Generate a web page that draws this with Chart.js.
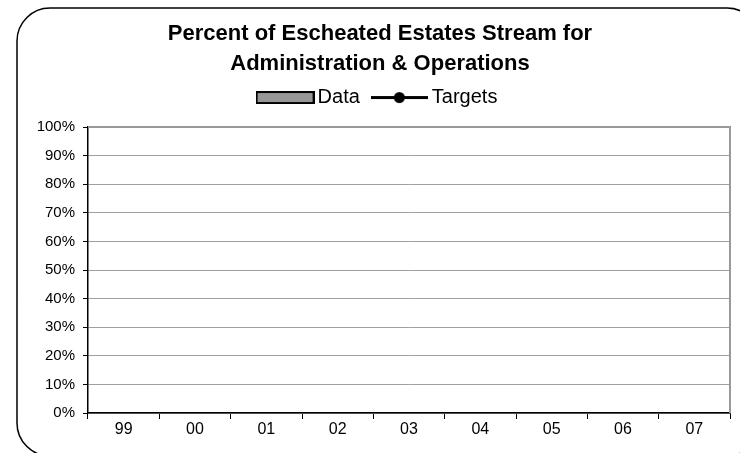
<!DOCTYPE html>
<html>
<head>
<meta charset="utf-8">
<script src="https://cdn.jsdelivr.net/npm/chart.js@4.4.1/dist/chart.umd.min.js"></script>
<style>
  html, body { margin: 0; padding: 0; background: #fff; }
  #wrap { width: 740px; height: 453px; }
</style>
</head>
<body>
<div id="wrap"><canvas id="chartCanvas"></canvas></div>
<script>
const years = ["99","00","01","02","03","04","05","06","07"]
// no values shown in the reference, both series are empty
const dataValues = [null,null,null,null,null,null,null,null,null]
const targetValues = [null,null,null,null,null,null,null,null,null]
const yTicks = [0,10,20,30,40,50,60,70,80,90,100]

const FONT = "'Liberation Sans', Arial, sans-serif"

// legend symbols drawn as small canvases
function makeBoxIcon() {
    const c = document.createElement("canvas")
    c.width = 59; c.height = 13
    const g = c.getContext("2d")
    g.fillStyle = "#969696"
    g.fillRect(1, 1, 57, 11)
    g.strokeStyle = "#000"
    g.lineWidth = 2
    g.strokeRect(1, 1, 57, 11)
    return c
}
function makeLineIcon() {
    const c = document.createElement("canvas")
    c.width = 57; c.height = 13
    const g = c.getContext("2d")
    g.strokeStyle = "#000"
    g.lineWidth = 3
    g.beginPath(); g.moveTo(0, 6.5); g.lineTo(57, 6.5); g.stroke()
    g.fillStyle = "#000"
    g.beginPath(); g.arc(28.5, 6.5, 5.5, 0, Math.PI * 2); g.fill()
    return c
}
const boxIcon = makeBoxIcon()
const lineIcon = makeLineIcon()

const framePlugin = {
    id: "frame",
    beforeInit(chart) {
        const fit = chart.legend.fit
        chart.legend.fit = function () {
            fit.call(this)
            this.height += 9.5
        }
    },
    afterDraw(chart) {
        const ctx = chart.ctx
        const a = chart.chartArea
        ctx.save()
        // plot area border (top + right)
        ctx.strokeStyle = "#999"
        ctx.lineWidth = 2
        ctx.beginPath()
        ctx.moveTo(a.left, a.top)
        ctx.lineTo(a.right, a.top)
        ctx.lineTo(a.right, a.bottom)
        ctx.stroke()
        // rounded outer frame
        ctx.strokeStyle = "#000"
        ctx.lineWidth = 1.5
        ctx.beginPath()
        ctx.roundRect(17, 8, 743, 448, 33)
        ctx.stroke()
        ctx.restore()
    }
}

const chart = new Chart(document.getElementById("chartCanvas"), {
    data: {
        labels: years,
        datasets: [
            {
                type: "bar",
                label: "Data",
                data: dataValues,
                backgroundColor: "#969696",
                borderColor: "#000",
                borderWidth: 1,
                order: 2
            },
            {
                type: "line",
                label: "Targets",
                data: targetValues,
                borderColor: "#000",
                backgroundColor: "#000",
                borderWidth: 3,
                pointRadius: 5,
                order: 1
            }
        ]
    },
    options: {
        responsive: true,
        maintainAspectRatio: false,
        animation: false,
        layout: { padding: { left: 30, right: 10, top: 0, bottom: 0 } },
        plugins: {
            title: {
                display: true,
                text: ["Percent of Escheated Estates Stream for", "Administration & Operations"],
                color: "#000",
                font: { family: FONT, size: 22, weight: "bold", lineHeight: 1.364 },
                padding: { top: 19, bottom: -8.5 }
            },
            legend: {
                display: true,
                labels: {
                    color: "#000",
                    font: { family: FONT, size: 20 },
                    usePointStyle: true,
                    pointStyleWidth: 45,
                    padding: 17,
                    generateLabels(chart) {
                        return chart.data.datasets.map((ds, i) => ({
                            text: ds.label,
                            pointStyle: i === 0 ? boxIcon : lineIcon,
                            fillStyle: "#000",
                            strokeStyle: "#000",
                            lineWidth: 0,
                            hidden: false,
                            datasetIndex: i
                        }))
                    }
                }
            },
            tooltip: { enabled: false }
        },
        scales: {
            x: {
                offset: true,
                afterFit(scale) { scale.height = 40 },
                grid: {
                    offset: true,
                    drawOnChartArea: false,
                    drawTicks: true,
                    tickLength: 6,
                    tickColor: "#000"
                },
                border: { color: "#000", width: 1.5 },
                ticks: {
                    color: "#000",
                    font: { family: FONT, size: 16 },
                    padding: 1,
                    maxRotation: 0
                }
            },
            y: {
                min: 0,
                max: 100,
                afterFit(scale) { scale.width = 58 },
                afterBuildTicks(scale) {
                    scale.ticks = yTicks.map(v => ({ value: v }))
                },
                grid: {
                    color: "#a0a0a0",
                    lineWidth: 1,
                    drawTicks: true,
                    tickLength: 5,
                    tickColor: "#000"
                },
                border: { color: "#000", width: 1.5 },
                ticks: {
                    color: "#000",
                    font: { family: FONT, size: 15 },
                    padding: 8,
                    callback: v => v + "%"
                }
            }
        }
    },
    plugins: [framePlugin]
})
</script>
</body>
</html>
